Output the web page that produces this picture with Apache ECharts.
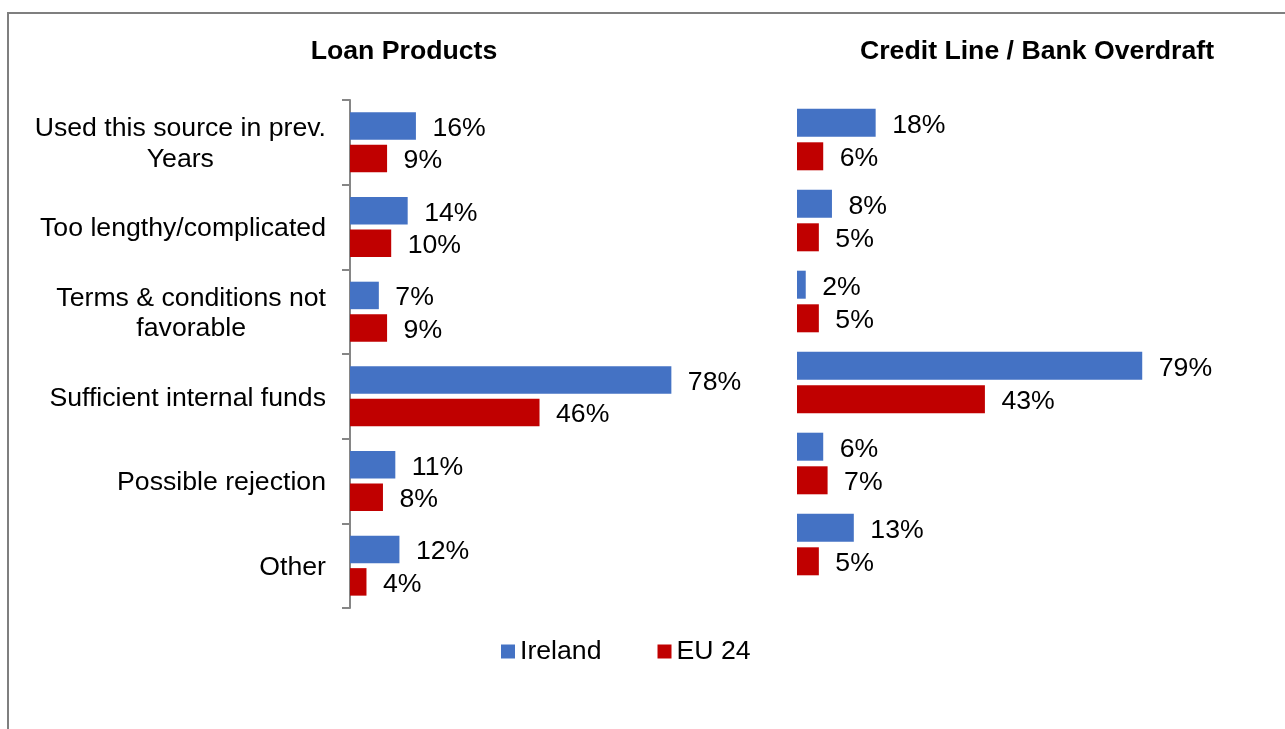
<!DOCTYPE html>
<html>
<head>
<meta charset="utf-8">
<title>Reasons for not using financing</title>
<script src="https://cdn.jsdelivr.net/npm/echarts@6/dist/echarts.min.js"></script>
<style>
  html, body { margin: 0; padding: 0; background: #ffffff; }
  #chart { width: 1285px; height: 729px; }
</style>
</head>
<body>
<div id="chart"></div>
<script>
// Reasons given for not using each financing source (share of firms, %)
const categories = [
  'Used this source in prev.\nYears',
  'Too lengthy/complicated',
  'Terms & conditions not\nfavorable',
  'Sufficient internal funds',
  'Possible rejection',
  'Other'
];
const seriesNames = ['Ireland', 'EU 24'];
const panelTitles = ['Loan Products', 'Credit Line / Bank Overdraft'];

const loanIreland = [16, 14, 7, 78, 11, 12];
const loanEU24 = [9, 10, 9, 46, 8, 4];
const creditIreland = [18, 8, 2, 79, 6, 13];
const creditEU24 = [6, 5, 5, 43, 7, 5];

const FONT = '"Liberation Sans", Arial, Helvetica, sans-serif';
const FONT_SIZE = 26.67;
const BLUE = '#4472C4';
const RED = '#C00000';
const AXIS_GREY = '#868686';

const chart = echarts.init(document.getElementById('chart'), null, { renderer: 'canvas' });

function valueLabel() {
  return {
    show: true,
    position: 'right',
    distance: 16.5,
    offset: [0, 2.5],
    formatter: '{c}%',
    fontFamily: FONT,
    fontSize: FONT_SIZE,
    color: '#000000'
  };
}

function barSeries(name, data, axisIndex, color, width, gap) {
  return {
    type: 'bar',
    name: name,
    data: data,
    xAxisIndex: axisIndex,
    yAxisIndex: axisIndex,
    barWidth: width,
    barGap: gap,
    itemStyle: { color: color },
    label: valueLabel(),
    emphasis: { disabled: true },
    animation: false
  };
}

function titleText(text, x) {
  return {
    type: 'text',
    silent: true,
    x: x, y: 52,
    style: {
      text: text, font: 'bold ' + FONT_SIZE + 'px ' + FONT, fill: '#000000',
      align: 'center', verticalAlign: 'middle',
      textAlign: 'center', textVerticalAlign: 'middle'
    }
  };
}

const option = {
  backgroundColor: '#ffffff',
  animation: false,
  graphic: [
    {
      type: 'rect',
      silent: true,
      shape: { x: 8, y: 13, width: 1400, height: 800 },
      style: { fill: 'none', stroke: '#7f7f7f', lineWidth: 2 }
    },
    titleText(panelTitles[0], 404),
    titleText(panelTitles[1], 1037)
  ],
  legend: {
    data: seriesNames,
    left: 496,
    top: 633,
    icon: 'rect',
    itemWidth: 14,
    itemHeight: 14,
    itemGap: 56,
    selectedMode: false,
    textStyle: { fontFamily: FONT, fontSize: FONT_SIZE, lineHeight: 27, color: '#000000' }
  },
  grid: [
    { left: 350, top: 100, width: 412, height: 508, containLabel: false },
    { left: 797, top: 99, width: 437, height: 486, containLabel: false }
  ],
  xAxis: [
    { type: 'value', gridIndex: 0, min: 0, max: 100, show: false },
    { type: 'value', gridIndex: 1, min: 0, max: 100, show: false }
  ],
  yAxis: [
    {
      type: 'category',
      gridIndex: 0,
      data: categories,
      inverse: true,
      axisLine: { show: true, lineStyle: { color: AXIS_GREY, width: 2 } },
      axisTick: { show: true, length: 8, lineStyle: { color: AXIS_GREY, width: 2 } },
      splitLine: { show: false },
      axisLabel: {
        interval: 0,
        margin: 24,
        padding: [4, 0, 0, 0],
        fontFamily: FONT,
        fontSize: FONT_SIZE,
        color: '#000000',
        formatter: function (value) {
          return value.split('\n').map(function (line) { return '{c|' + line + '}'; }).join('\n');
        },
        rich: {
          c: { fontFamily: FONT, fontSize: FONT_SIZE, lineHeight: 30.5, color: '#000000', align: 'center' }
        }
      }
    },
    {
      type: 'category',
      gridIndex: 1,
      data: categories,
      inverse: true,
      axisLine: { show: false },
      axisTick: { show: false },
      axisLabel: { show: false },
      splitLine: { show: false }
    }
  ],
  series: [
    barSeries(seriesNames[0], loanIreland, 0, BLUE, 27.5, '18%'),
    barSeries(seriesNames[1], loanEU24, 0, RED, 27.5, '18%'),
    barSeries(seriesNames[0], creditIreland, 1, BLUE, 28, '20%'),
    barSeries(seriesNames[1], creditEU24, 1, RED, 28, '20%')
  ]
};

chart.setOption(option);
</script>
</body>
</html>
